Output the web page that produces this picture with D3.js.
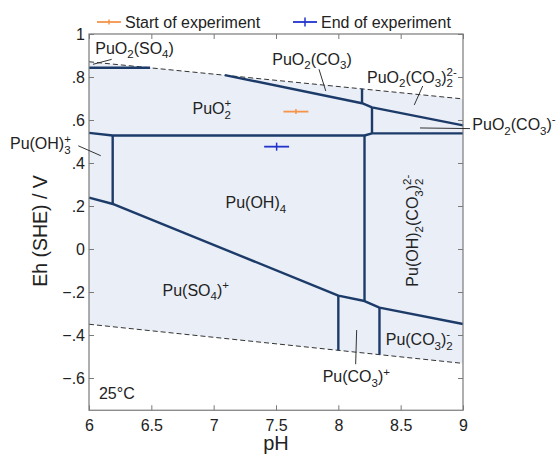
<!DOCTYPE html>
<html>
<head>
<meta charset="utf-8">
<script src="https://cdn.jsdelivr.net/npm/d3@7"></script>
<style>
  html, body { margin: 0; padding: 0; background: #fff; }
  svg { display: block; font-family: "Liberation Sans", Arial, sans-serif; }
</style>
</head>
<body>
<svg id="chart" width="558" height="456"></svg>
<script>
// Pu Pourbaix diagram, 25 °C: pH on x, Eh (SHE) on y
const pHTicks = [6, 6.5, 7, 7.5, 8, 8.5, 9];
const ehTicks = [-0.6, -0.4, -0.2, 0, 0.2, 0.4, 0.6, 0.8, 1];

// water stability limits (dashed)
const waterUpper = [[6, 0.871], [9, 0.698]];
const waterLower = [[6, -0.350], [9, -0.532]];

// predominance boundaries [pH, Eh]
const bSulfateTop   = [[6, 0.843], [6.49, 0.843]];
const bCarbonateVI  = [[7.09, 0.809], [8.19, 0.678], [8.27, 0.659], [9, 0.575]];
const bCarbVIsplit  = [[8.19, 0.745], [8.19, 0.678]];
const bCarbVsplit   = [[8.27, 0.659], [8.27, 0.538]];
const bPlutonylV    = [[6, 0.540], [6.19, 0.528], [8.21, 0.528], [8.27, 0.538], [9, 0.538]];
const bHydroxIII    = [[6.19, 0.528], [6.19, 0.208]];
const bPuIV         = [[6, 0.239], [6.20, 0.208], [8.00, -0.217], [8.21, -0.242], [8.33, -0.273], [9, -0.349]];
const bCarbIV       = [[8.21, 0.528], [8.21, -0.242]];
const bCarbIIIa     = [[8.00, -0.217], [8.00, -0.471]];
const bCarbIIIb     = [[8.33, -0.273], [8.33, -0.491]];
const boundaries = [bSulfateTop, bCarbonateVI, bCarbVIsplit, bCarbVsplit, bPlutonylV,
                    bHydroxIII, bPuIV, bCarbIV, bCarbIIIa, bCarbIIIb];

// experimental conditions: pH, Eh, pH uncertainty
const startPoint = { pH: 7.66, eh: 0.639, err: 0.1 };
const endPoint   = { pH: 7.505, eh: 0.476, err: 0.1 };

// species labels: text pieces, anchor [pH, Eh], optional leader line
const speciesLabels = [
  { parts: ["PuO", {sub: "2"}, "(SO", {sub: "4"}, ")"], at: [6.05, 0.907], leader: [[6.032, 0.859], [6.182, 0.882]] },
  { parts: ["PuO", {subsup: ["2", "+"]}], at: [6.83, 0.627] },
  { parts: ["PuO", {sub: "2"}, "(CO", {sub: "3"}, ")"], at: [7.47, 0.856], leader: [[7.845, 0.836], [7.899, 0.735]] },
  { parts: ["PuO", {sub: "2"}, "(CO", {sub: "3"}, ")", {subsup: ["2", "2-"]}], at: [8.23, 0.773], leader: [[8.677, 0.758], [8.609, 0.670]] },
  { parts: ["PuO", {sub: "2"}, "(CO", {sub: "3"}, ")", {sup: "-"}], at: [9.075, 0.553], leader: [[8.655, 0.563], [9.056, 0.560]] },
  { parts: ["Pu(OH)", {subsup: ["3", "+"]}], at: [5.366, 0.463], leader: [[5.914, 0.480], [6.094, 0.434]] },
  { parts: ["Pu(OH)", {sub: "4"}], at: [7.095, 0.189] },
  { parts: ["Pu(SO", {sub: "4"}, ")", {sup: "+"}], at: [6.59, -0.218] },
  { parts: ["Pu(OH)", {sub: "2"}, "(CO", {sub: "3"}, ")", {subsup: ["2", "2-"]}], at: [8.64, -0.175], rotate: true },
  { parts: ["Pu(CO", {sub: "3"}, ")", {subsup: ["2", "-"]}], at: [8.38, -0.447] },
  { parts: ["Pu(CO", {sub: "3"}, ")", {sup: "+"}], at: [7.874, -0.620], leader: [[8.147, -0.377], [8.139, -0.536]] },
  { parts: ["25°C"], at: [6.08, -0.699] }
];

const W = 558, H = 456;
const svg = d3.select("#chart");
const x = d3.scaleLinear().domain([6, 9]).range([89, 463]);
const y = d3.scaleLinear().domain([-0.75, 1]).range([410.25, 34]);

const navy = "#1d3b69";
const fillColor = "#e9eef7";
const fontSize = 16;

// shaded water-stability field
const area = waterUpper.concat(waterLower.slice().reverse());
svg.append("path")
  .attr("d", d3.line().x(d => x(d[0])).y(d => y(d[1]))(area) + "Z")
  .attr("fill", fillColor);

const line = d3.line().x(d => x(d[0])).y(d => y(d[1]));

// dashed water lines
[waterUpper, waterLower].forEach(w => {
  svg.append("path").attr("d", line(w))
    .attr("fill", "none").attr("stroke", "#333").attr("stroke-width", 1)
    .attr("stroke-dasharray", "5,3");
});

// boundaries
boundaries.forEach(b => {
  svg.append("path").attr("d", line(b))
    .attr("fill", "none").attr("stroke", navy).attr("stroke-width", 2.4)
    .attr("stroke-linejoin", "round");
});

// axes with inward ticks
const yFmt = v => {
  if (v === 0) return "0";
  if (v === 1) return "1";
  let s = Math.abs(v).toFixed(1).replace(/^0/, "");
  return (v < 0 ? "\u2212" : "") + s;
};
const axisColor = "#7a7a7a";
function styleAxis(g) {
  g.select(".domain").remove();
  g.selectAll(".tick line").attr("stroke", axisColor);
  g.selectAll(".tick text").attr("fill", "#222").attr("font-size", fontSize)
    .attr("font-family", "'Liberation Sans', Arial, sans-serif");
}
svg.append("g").attr("transform", `translate(0,${y(-0.75)})`)
  .call(d3.axisBottom(x).tickValues(pHTicks).tickFormat(d3.format("")).tickSizeInner(-5).tickSizeOuter(0).tickPadding(9))
  .call(styleAxis);
svg.append("g").attr("transform", `translate(0,${y(1)})`)
  .call(d3.axisTop(x).tickValues(pHTicks).tickFormat("").tickSizeInner(-5).tickSizeOuter(0))
  .call(styleAxis);
svg.append("g").attr("transform", `translate(${x(6)},0)`)
  .call(d3.axisLeft(y).tickValues(ehTicks).tickFormat(yFmt).tickSizeInner(-5).tickSizeOuter(0).tickPadding(4))
  .call(styleAxis);
svg.append("g").attr("transform", `translate(${x(9)},0)`)
  .call(d3.axisRight(y).tickValues(ehTicks).tickFormat("").tickSizeInner(-5).tickSizeOuter(0))
  .call(styleAxis);

// frame
svg.append("rect")
  .attr("x", x(6)).attr("y", y(1))
  .attr("width", x(9) - x(6)).attr("height", y(-0.75) - y(1))
  .attr("fill", "none").attr("stroke", axisColor).attr("stroke-width", 1.2);

// axis titles
svg.append("text").attr("x", (x(6) + x(9)) / 2).attr("y", 450)
  .attr("text-anchor", "middle").attr("font-size", 20).attr("fill", "#222").text("pH");
svg.append("text").attr("transform", `translate(47,${231}) rotate(-90)`)
  .attr("text-anchor", "middle").attr("font-size", 19.5).attr("fill", "#222").text("Eh (SHE) / V");

// chemical formula writer: sequential pieces with sub/superscripts
function chem(g, parts, size) {
  const small = size * 0.72;
  let cx = 0;
  const put = (txt, dy, fs) => {
    const t = g.append("text").attr("x", cx).attr("y", dy)
      .attr("font-size", fs).attr("fill", "#222").text(txt);
    return t.node().getComputedTextLength();
  };
  parts.forEach(p => {
    if (typeof p === "string") cx += put(p, 0, size);
    else if (p.sub !== undefined) cx += put(p.sub, size * 0.28, small);
    else if (p.sup !== undefined) cx += put(p.sup, -size * 0.42, small);
    else if (p.subsup) {
      const w1 = put(p.subsup[0], size * 0.28, small);
      const w2 = put(p.subsup[1], -size * 0.42, small);
      cx += Math.max(w1, w2);
    }
  });
  return cx;
}

speciesLabels.forEach(l => {
  if (l.leader) {
    svg.append("path").attr("d", line(l.leader))
      .attr("stroke", "#333").attr("stroke-width", 1).attr("fill", "none");
  }
  const g = svg.append("g")
    .attr("transform", `translate(${x(l.at[0])},${y(l.at[1])})` + (l.rotate ? " rotate(-90)" : ""));
  chem(g, l.parts, fontSize);
});

// experiment markers: horizontal error bar with a short vertical tick
function marker(p, color, half) {
  const g = svg.append("g");
  g.append("line").attr("x1", x(p.pH - p.err)).attr("x2", x(p.pH + p.err))
    .attr("y1", y(p.eh)).attr("y2", y(p.eh)).attr("stroke", color).attr("stroke-width", 1.8);
  g.append("line").attr("x1", x(p.pH)).attr("x2", x(p.pH))
    .attr("y1", y(p.eh) - half).attr("y2", y(p.eh) + half).attr("stroke", color).attr("stroke-width", 1.5);
}
const orange = "#f5944a", blue = "#2233cc";
marker(startPoint, orange, 2.5);
marker(endPoint, blue, 4);

// legend
const legendItems = [
  { label: "Start of experiment", color: orange, x0: 97, half: 2.5 },
  { label: "End of experiment", color: blue, x0: 293, half: 4.5 }
];
legendItems.forEach(it => {
  const g = svg.append("g");
  g.append("line").attr("x1", it.x0).attr("x2", it.x0 + 24).attr("y1", 22).attr("y2", 22)
    .attr("stroke", it.color).attr("stroke-width", 1.8);
  g.append("line").attr("x1", it.x0 + 12).attr("x2", it.x0 + 12).attr("y1", 22 - it.half).attr("y2", 22 + it.half)
    .attr("stroke", it.color).attr("stroke-width", 1.5);
  g.append("text").attr("x", it.x0 + 28).attr("y", 28).attr("font-size", fontSize)
    .attr("fill", "#222").text(it.label);
});
</script>
</body>
</html>
